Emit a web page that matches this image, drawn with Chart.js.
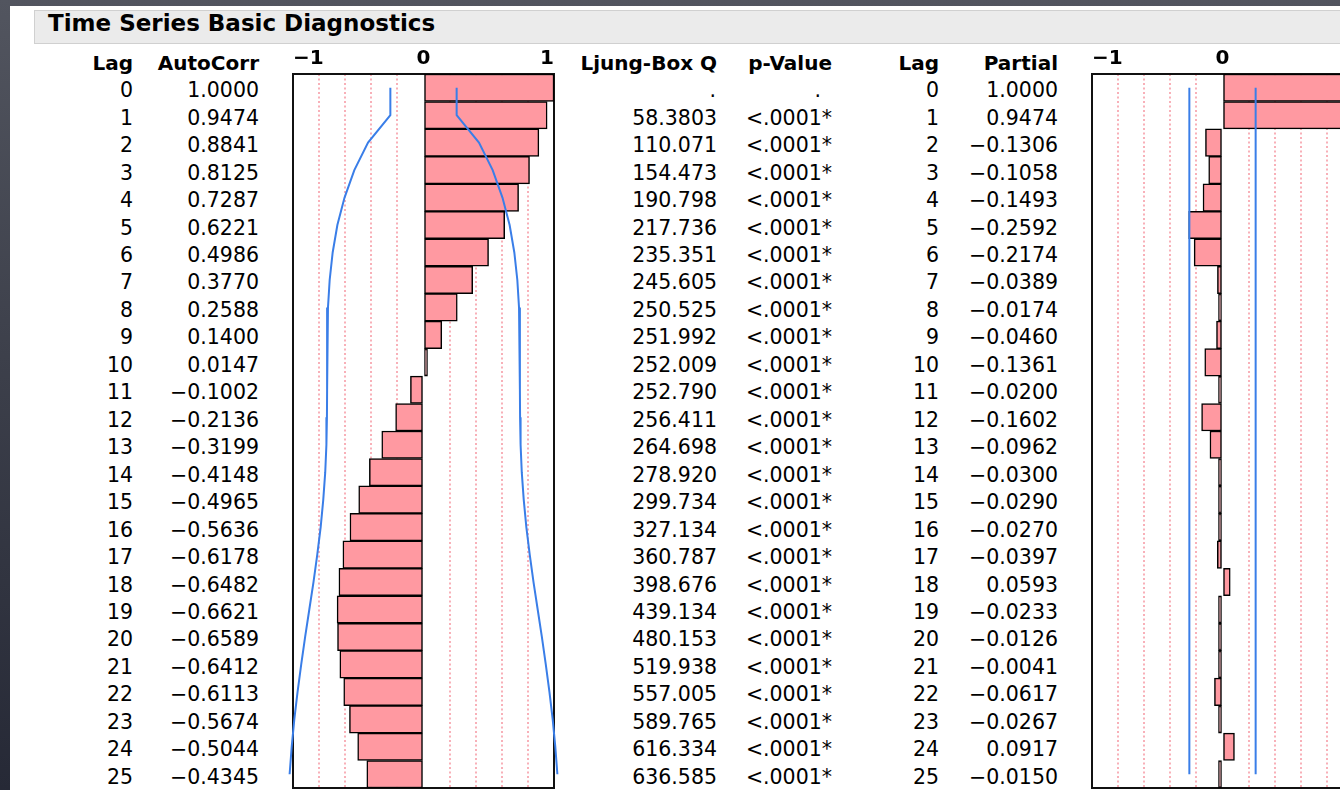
<!DOCTYPE html>
<html>
<head>
<meta charset="utf-8">
<title>Time Series Basic Diagnostics</title>
<script src="https://cdn.jsdelivr.net/npm/chart.js@4.4.1/dist/chart.umd.min.js"></script>
<style>
  html, body { margin: 0; padding: 0; width: 1340px; height: 790px; overflow: hidden; }
  body {
    position: relative;
    font-family: 'DejaVu Sans', sans-serif;
    background: linear-gradient(180deg, #52555f 0%, #3d404b 45%, #262936 100%);
  }
  #panel { position: absolute; left: 10px; top: 6px; right: 0; bottom: 0; background: #fff; }
  #titlebar { position: absolute; left: 34px; top: 10px; width: 1320px; height: 32px; background: #ebebeb; border: 1px solid #d0d0d0; }
  #title { position: absolute; left: 48px; top: 9px; line-height: 28px; font-size: 23px; font-weight: bold; color: #000; white-space: nowrap; }
  .cell { position: absolute; white-space: nowrap; font-size: 20.5px; line-height: 24px; height: 24px; color: #000; transform: translateX(-100%); }
  .hdr { font-weight: bold; font-size: 20px; }
  .chart-wrap { position: absolute; top: 0; height: 792px; }
</style>
</head>
<body>
<div id="panel"></div>
<div id="titlebar"></div>
<div id="title">Time Series Basic Diagnostics</div>
<div class="chart-wrap" id="acf-wrap"><canvas id="acf"></canvas></div>
<div class="chart-wrap" id="pacf-wrap"><canvas id="pacf"></canvas></div>
<script>
const lags = [0, 1, 2, 3, 4, 5, 6, 7, 8, 9, 10, 11, 12, 13, 14, 15, 16, 17, 18, 19, 20, 21, 22, 23, 24, 25];
const autoCorr = [1.0000, 0.9474, 0.8841, 0.8125, 0.7287, 0.6221, 0.4986, 0.3770, 0.2588, 0.1400, 0.0147,
  -0.1002, -0.2136, -0.3199, -0.4148, -0.4965, -0.5636, -0.6178, -0.6482, -0.6621, -0.6589, -0.6412,
  -0.6113, -0.5674, -0.5044, -0.4345];
const ljungBoxQ = [null, 58.3803, 110.071, 154.473, 190.798, 217.736, 235.351, 245.605, 250.525, 251.992,
  252.009, 252.790, 256.411, 264.698, 278.920, 299.734, 327.134, 360.787, 398.676, 439.134, 480.153,
  519.938, 557.005, 589.765, 616.334, 636.585];
const pValues = ['.', '<.0001*', '<.0001*', '<.0001*', '<.0001*', '<.0001*', '<.0001*', '<.0001*', '<.0001*',
  '<.0001*', '<.0001*', '<.0001*', '<.0001*', '<.0001*', '<.0001*', '<.0001*', '<.0001*', '<.0001*',
  '<.0001*', '<.0001*', '<.0001*', '<.0001*', '<.0001*', '<.0001*', '<.0001*', '<.0001*'];
const partialCorr = [1.0000, 0.9474, -0.1306, -0.1058, -0.1493, -0.2592, -0.2174, -0.0389, -0.0174, -0.0460,
  -0.1361, -0.0200, -0.1602, -0.0962, -0.0300, -0.0290, -0.0270, -0.0397, 0.0593, -0.0233, -0.0126,
  -0.0041, -0.0617, -0.0267, 0.0917, -0.0150];
// blue 2-std-error limits
const acfBand = [0.254, 0.254, 0.425, 0.530, 0.605, 0.660, 0.696, 0.719, 0.732, 0.738, 0.739, 0.739, 0.740,
  0.744, 0.753, 0.768, 0.788, 0.814, 0.843, 0.875, 0.907, 0.937, 0.965, 0.990, 1.010, 1.026];
const pacfBand = [0.254, 0.254, 0.254, 0.254, 0.254, 0.254, 0.254, 0.254, 0.254, 0.254, 0.254, 0.254, 0.254,
  0.254, 0.254, 0.254, 0.254, 0.254, 0.254, 0.254, 0.254, 0.254, 0.254, 0.254, 0.254, 0.254];
const axisTickLabels = [-1, 0, 1];

const PINK = '#ff99a1';
const BLUE = '#3a7ee8';
const DOTS = 'rgba(246, 150, 160, 0.75)';
const PAD_X = 10;
const PLOT_TOP = 74;
const PLOT_W = 261;

Chart.defaults.font.family = "'DejaVu Sans', sans-serif";
Chart.defaults.color = '#000';

const minus = (s) => s.replace('-', '\u2212');
const roundTenth = (v) => Math.round(v * 10) / 10;

const plotBox = {
  id: 'plotBox',
  beforeDatasetsDraw(chart) {
    const { ctx, chartArea: a } = chart;
    ctx.save();
    ctx.strokeStyle = '#111';
    ctx.lineWidth = 2;
    ctx.strokeRect(a.left, a.top, a.width, a.height);
    ctx.restore();
  },
};

const bandLine = (data) => ({
  type: 'line',
  indexAxis: 'y',
  data,
  borderColor: BLUE,
  borderWidth: 2,
  pointRadius: 0,
  tension: 0,
  fill: false,
  clip: false,
  order: 1,
});

const buildCorrChart = (id, plotLeft, values, band) => {
  const wrap = document.getElementById(id + '-wrap');
  wrap.style.left = (plotLeft - PAD_X) + 'px';
  wrap.style.width = (PLOT_W + 2 * PAD_X) + 'px';

  const chart = new Chart(document.getElementById(id).getContext('2d'), {
    type: 'bar',
    data: {
      labels: lags.map(String),
      datasets: [
        {
          type: 'bar',
          indexAxis: 'y',
          data: values,
          backgroundColor: PINK,
          borderColor: '#000',
          borderWidth: 1.5,
          borderSkipped: false,
          barPercentage: 1,
          categoryPercentage: 1,
          minBarLength: 4,
          order: 2,
        },
        bandLine(band),
        bandLine(band.map((v) => -v)),
      ],
    },
    options: {
      indexAxis: 'y',
      responsive: true,
      maintainAspectRatio: false,
      animation: false,
      layout: { padding: { left: PAD_X, right: PAD_X, top: 0, bottom: 4 } },
      plugins: { legend: { display: false }, tooltip: { enabled: false } },
      scales: {
        x: {
          type: 'linear',
          position: 'top',
          min: -1,
          max: 1,
          ticks: {
            stepSize: 0.2,
            autoSkip: false,
            maxRotation: 0,
            align: 'inner',
            padding: 3,
            color: '#000',
            font: { size: 20, weight: 'bold' },
            callback: (v) => (axisTickLabels.includes(roundTenth(v)) ? minus(String(roundTenth(v))) : ''),
          },
          grid: {
            drawTicks: false,
            lineWidth: 2,
            color: (c) => (c.tick && !axisTickLabels.includes(roundTenth(c.tick.value)) ? DOTS : 'rgba(0,0,0,0)'),
          },
          border: { display: false, dash: [2, 2.5] },
        },
        y: { type: 'category', display: false, offset: true, grid: { display: false } },
      },
    },
    plugins: [plotBox],
  });

  // line the plot frame up with the table rows
  chart.config.options.layout.padding.top = PLOT_TOP - chart.chartArea.top;
  chart.update('none');
  wrap.style.left = (plotLeft - chart.chartArea.left) + 'px';
  return chart;
};

const acfChart = buildCorrChart('acf', 293, autoCorr, acfBand);
buildCorrChart('pacf', 1092, partialCorr, pacfBand);

const addCell = (text, right, centerY, cls) => {
  const el = document.createElement('div');
  el.className = 'cell' + (cls ? ' ' + cls : '');
  el.textContent = text;
  el.style.left = right + 'px';
  el.style.top = (centerY - 12) + 'px';
  document.body.appendChild(el);
};

const HEAD_Y = 62.5;
const columns = [
  { head: 'Lag', right: 133, text: (i) => String(lags[i]) },
  { head: 'AutoCorr', right: 259, text: (i) => minus(autoCorr[i].toFixed(4)) },
  { head: 'Ljung-Box Q', right: 717, text: (i) => (ljungBoxQ[i] == null ? '.' : ljungBoxQ[i].toPrecision(6)), missRight: 716 },
  { head: 'p-Value', right: 832, text: (i) => pValues[i], missRight: 821 },
  { head: 'Lag', right: 939, text: (i) => String(lags[i]) },
  { head: 'Partial', right: 1058, text: (i) => minus(partialCorr[i].toFixed(4)) },
];

const yScale = acfChart.scales.y;
columns.forEach((col) => {
  addCell(col.head, col.right, HEAD_Y, 'hdr');
  lags.forEach((lag, i) => {
    const txt = col.text(i);
    const right = txt === '.' && col.missRight ? col.missRight : col.right;
    addCell(txt, right, yScale.getPixelForValue(i) + 2.5);
  });
});
</script>
</body>
</html>
